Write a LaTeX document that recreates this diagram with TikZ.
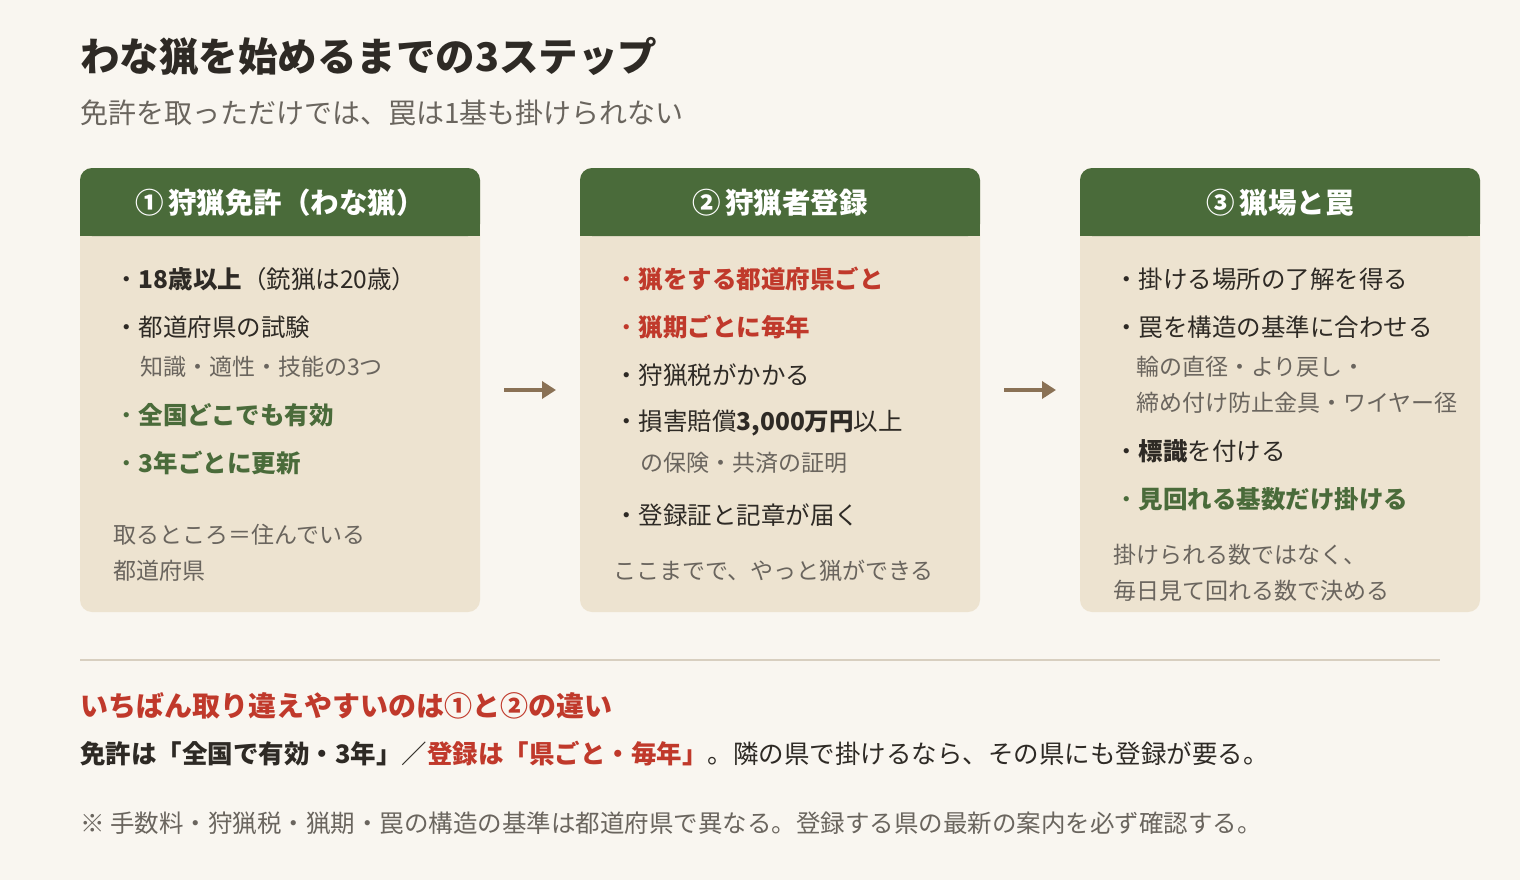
\documentclass[tikz,border=0pt]{standalone}
\usepackage{fontspec}
\setmainfont{Noto Sans CJK JP}
\usetikzlibrary{arrows.meta}
\definecolor{bg}{HTML}{F9F6F0}
\definecolor{hd}{HTML}{4A6B3A}
\definecolor{card}{HTML}{EDE3D0}
\definecolor{rd}{HTML}{C0392B}
\definecolor{gr}{HTML}{4A6B3A}
\definecolor{tx}{HTML}{2E2A25}
\definecolor{gy}{HTML}{6A655E}
\definecolor{ar}{HTML}{8A7155}
\definecolor{rule}{HTML}{D8CFC0}
\begin{document}
\begin{tikzpicture}[x=1pt,y=-1pt,
  txt/.style={anchor=west,inner sep=0,text=tx,font=\fontsize{24.5}{28}\selectfont},
  sub/.style={anchor=west,inner sep=0,text=gy,font=\fontsize{23}{26}\selectfont},
  hdt/.style={text=white,font=\fontsize{28.5}{32}\selectfont\bfseries},
  arr/.style={draw=ar,line width=3.5pt,-{Triangle[length=14pt,width=17pt]}}]
\fill[bg] (0,0) rectangle (1520,880);
\node[anchor=west,inner sep=0,text=tx,font=\fontsize{39.5}{44}\selectfont\bfseries] (title) at (80,57) {わな猟を始めるまでの3ステップ};
\node[sub,font=\fontsize{28}{32}\selectfont] (subt) at (80,113) {免許を取っただけでは、罠は1基も掛けられない};
\foreach \x/\n in {80/a,580/b,1080/c}{
  \fill[card,rounded corners=12] (\x,168) rectangle (\x+400,612);
  \fill[hd,rounded corners=12] (\x,168) rectangle (\x+400,236);
  \fill[hd] (\x,210) rectangle (\x+400,236);
}
\node[hdt] (h1) at (280,203) {①\,狩猟免許（わな猟）};
\node[hdt] (h2) at (780,203) {②\,狩猟者登録};
\node[hdt] (h3) at (1280,203) {③\,猟場と罠};
% card 1
\node[txt] (a1) at (114,279) {・\textbf{18歳以上}（銃猟は20歳）};
\node[txt] (a2) at (114,327) {・都道府県の試験};
\node[sub] (a3) at (140,367) {知識・適性・技能の3つ};
\node[txt,text=gr] (a4) at (114,415) {・\textbf{全国どこでも有効}};
\node[txt,text=gr] (a5) at (114,463) {・\textbf{3年ごとに更新}};
\node[sub] (a6) at (113,535) {取るところ＝住んでいる};
\node[sub] (a7) at (113,571) {都道府県};
% card 2
\node[txt,text=rd] (b1) at (614,279) {・\textbf{猟をする都道府県ごと}};
\node[txt,text=rd] (b2) at (614,327) {・\textbf{猟期ごとに毎年}};
\node[txt] (b3) at (614,375) {・狩猟税がかかる};
\node[txt] (b4) at (614,423) {・損害賠償\textbf{3,000万円}以上};
\node[sub] (b5) at (640,463) {の保険・共済の証明};
\node[txt] (b6) at (614,515) {・登録証と記章が届く};
\node[sub] (b7) at (613,571) {ここまでで、やっと猟ができる};
% card 3
\node[txt] (c1) at (1114,279) {・掛ける場所の了解を得る};
\node[txt] (c2) at (1114,327) {・罠を構造の基準に合わせる};
\node[sub] (c3) at (1136,367) {輪の直径・より戻し・};
\node[sub] (c4) at (1136,403) {締め付け防止金具・ワイヤー径};
\node[txt] (c5) at (1114,451) {・\textbf{標識}を付ける};
\node[txt,text=gr] (c6) at (1114,499) {・\textbf{見回れる基数だけ掛ける}};
\node[sub] (c7) at (1113,555) {掛けられる数ではなく、};
\node[sub] (c8) at (1113,591) {毎日見て回れる数で決める};
% arrows
\coordinate (p1) at (504,390); \coordinate (q1) at (556,390);
\coordinate (p2) at (1004,390); \coordinate (q2) at (1056,390);
\draw[arr] (p1) -- (q1);
\draw[arr] (p2) -- (q2);
% bottom
\coordinate (l1) at (80,660); \coordinate (l2) at (1440,660);
\draw[rule,line width=1.5pt] (l1) -- (l2);
\node[anchor=west,inner sep=0,text=rd,font=\fontsize{28}{32}\selectfont\bfseries] (k1) at (80,706) {いちばん取り違えやすいのは①と②の違い};
\node[txt,font=\fontsize{25.5}{28}\selectfont] (k2) at (80,754) {\textbf{免許は「全国で有効・3年」}／\textcolor{rd}{\textbf{登録は「県ごと・毎年」}}。隣の県で掛けるなら、その県にも登録が要る。};
\node[sub,font=\fontsize{24.5}{28}\selectfont] (k3) at (80,823) {※ 手数料・狩猟税・猟期・罠の構造の基準は都道府県で異なる。登録する県の最新の案内を必ず確認する。};
\end{tikzpicture}
\end{document}
